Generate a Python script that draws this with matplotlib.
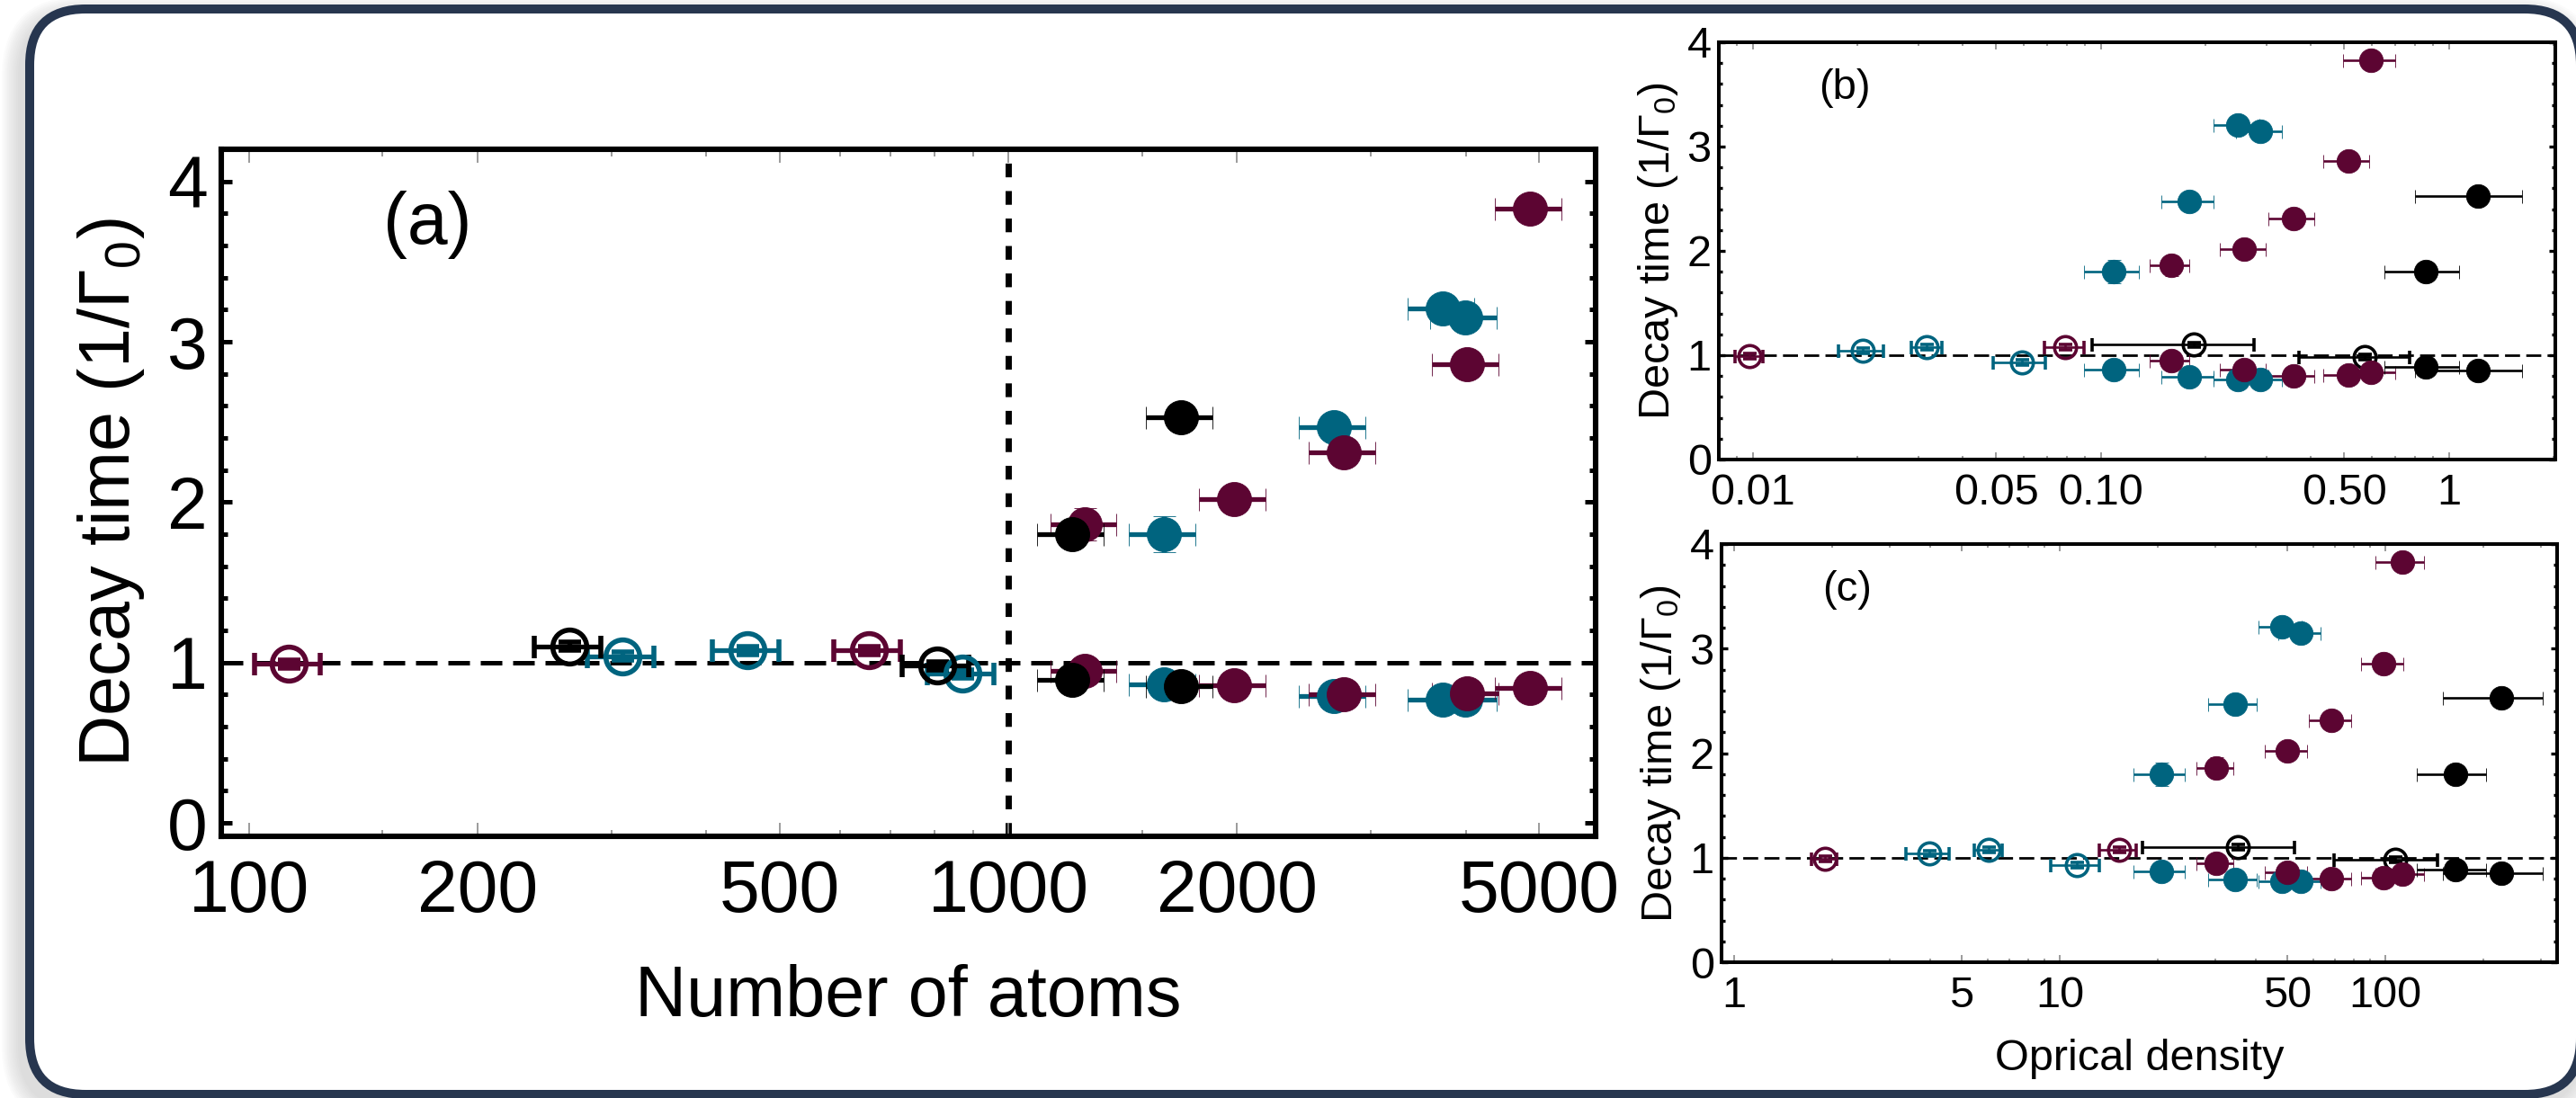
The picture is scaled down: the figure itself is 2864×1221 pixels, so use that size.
import matplotlib
matplotlib.use("Agg")
import numpy as np
import matplotlib.pyplot as plt
import matplotlib.ticker as mticker
from matplotlib.patches import FancyBboxPatch

plt.rcParams['font.family'] = ['Liberation Sans', 'DejaVu Sans']
plt.rcParams['mathtext.fontset'] = 'custom'
plt.rcParams['mathtext.rm'] = 'Liberation Sans'
plt.rcParams['mathtext.default'] = 'regular'

COLORS = {'maroon': '#5c0532', 'teal': '#00647f', 'black': '#000000'}

# open symbols: single decay time close to 1/Gamma0
open_color = ['maroon', 'black', 'teal', 'teal', 'maroon', 'black', 'teal']
open_atoms = [113, 264, 310, 453, 655, 806, 870]
open_tau = [0.99, 1.10, 1.04, 1.075, 1.075, 0.98, 0.93]
open_od_b = [0.0098, 0.185, 0.0207, 0.0317, 0.0791, 0.572, 0.0592]
open_od_c = [1.90, 35.3, 3.97, 6.06, 15.2, 107.0, 11.3]
open_od_relerr = [0.09, 0.49, 0.15, 0.10, 0.13, 0.35, 0.17]

# filled symbols: long (subradiant) and short (superradiant) decay time per sample
fill_color = ['maroon', 'black', 'teal', 'black', 'maroon', 'teal',
              'maroon', 'teal', 'teal', 'maroon', 'maroon']
fill_atoms = [1261, 1212, 1602, 1687, 1982, 2682, 2764, 3729, 3993, 4015, 4858]
fill_tau_long = [1.86, 1.80, 1.80, 2.53, 2.02, 2.47, 2.31, 3.21, 3.15, 2.86, 3.83]
fill_tau_long_err = [0.10, 0.04, 0.11, 0.04, 0.04, 0.05, 0.04, 0.07, 0.05, 0.04, 0.04]
fill_tau_short = [0.95, 0.89, 0.865, 0.855, 0.86, 0.79, 0.80, 0.77, 0.77, 0.81, 0.84]
fill_od_b = [0.159, 0.86, 0.109, 1.208, 0.258, 0.180, 0.357, 0.248, 0.288, 0.513, 0.598]
fill_od_c = [30.3, 164.0, 20.5, 227.0, 50.1, 34.5, 68.4, 48.0, 55.1, 98.9, 112.6]
fill_od_relerr = [0.13, 0.24, 0.18, 0.34, 0.15, 0.17, 0.15, 0.15, 0.15, 0.15, 0.17]

atoms_relerr = 0.10
tau_open_err = 0.025
tau_short_err = 0.025

W, H, DPI = 2864, 1221, 200
fig = plt.figure(figsize=(W / DPI, H / DPI), dpi=DPI)
fig.patch.set_facecolor('white')

# slide frame with a soft shadow
for i in range(10):
    grow = (10 - i) * 2.0 / DPI
    sh = FancyBboxPatch((28 / DPI - 6 / DPI - grow, -12 / DPI - grow),
                        2846 / DPI + 2 * grow, 1217 / DPI + 2 * grow,
                        boxstyle='round,pad=0,rounding_size=%f' % (70 / DPI + grow),
                        transform=fig.dpi_scale_trans, fc='#9a9a9a', ec='none',
                        alpha=0.035, zorder=-20)
    fig.add_artist(sh)
frame = FancyBboxPatch((33 / DPI, 4 / DPI), 2836 / DPI, 1207 / DPI,
                       boxstyle='round,pad=0,rounding_size=%f' % (62 / DPI),
                       transform=fig.dpi_scale_trans, fc='white', ec='#27364f',
                       lw=10 * 72 / DPI, zorder=-10)
fig.add_artist(frame)


def rect(l, t, r, b):
    return [l / W, (H - b) / H, (r - l) / W, (b - t) / H]


def draw_points(ax, xo, xo_err, xf, xf_err, ms_f, ms_o, mew, elw, cap):
    for c in ['teal', 'maroon', 'black']:
        col = COLORS[c]
        io = [i for i, k in enumerate(open_color) if k == c]
        if io:
            x = np.array([xo[i] for i in io])
            ax.errorbar(x, [open_tau[i] for i in io],
                        xerr=[xo_err[i] for i in io], yerr=tau_open_err,
                        fmt='o', color=col, mfc='none', mec=col, ms=ms_o, mew=mew,
                        elinewidth=elw, capsize=cap, capthick=elw, zorder=3)
        jf = [i for i, k in enumerate(fill_color) if k == c]
        x = np.array([xf[i] for i in jf])
        xe = [xf_err[i] for i in jf]
        ax.errorbar(x, [fill_tau_long[i] for i in jf], xerr=xe,
                    yerr=[fill_tau_long_err[i] for i in jf],
                    fmt='o', color=col, mec=col, ms=ms_f, mew=0.3,
                    elinewidth=elw, capsize=cap, capthick=elw, zorder=4)
        ax.errorbar(x, [fill_tau_short[i] for i in jf], xerr=xe, yerr=tau_short_err,
                    fmt='o', color=col, mec=col, ms=ms_f, mew=0.3,
                    elinewidth=elw, capsize=cap, capthick=elw, zorder=4)


def style_axes(ax, spine_w, tick_fs, ylen, ywid, xlen, ypad, xpad):
    for s in ax.spines.values():
        s.set_linewidth(spine_w)
    ax.set_facecolor('none')
    ax.yaxis.set_major_locator(mticker.FixedLocator([0, 1, 2, 3, 4]))
    ax.yaxis.set_minor_locator(mticker.MultipleLocator(0.2))
    ax.tick_params(axis='y', which='major', direction='in', left=True, right=True,
                   length=ylen, width=ywid, color='black', labelsize=tick_fs, pad=ypad)
    ax.tick_params(axis='y', which='minor', direction='in', left=True, right=True,
                   length=ylen * 0.55, width=ywid, color='black')
    ax.tick_params(axis='x', which='major', direction='in', top=True, bottom=True,
                   length=xlen, width=0.6, color='#8a8a8a', labelcolor='black',
                   labelsize=tick_fs, pad=xpad)
    ax.tick_params(axis='x', which='minor', direction='in', top=True, bottom=True,
                   length=xlen * 0.5, width=0.6, color='#8a8a8a')


ylabel = 'Decay time (1/Γ$_0$)'

# ---- panel (a)
ax = fig.add_axes(rect(246, 166, 1774, 930))
ax.set_xscale('log')
ax.set_xlim(92, 5930)
ax.set_ylim(-0.084, 4.2)
ax.axhline(1, color='black', lw=1.8, ls=(0, (4.8, 2.4)), zorder=1)
ax.axvline(1000, color='black', lw=2.5, ls=(0, (2.2, 2.2)), zorder=1)
draw_points(ax, open_atoms, [atoms_relerr * v for v in open_atoms],
            fill_atoms, [atoms_relerr * v for v in fill_atoms],
            ms_f=13.7, ms_o=13.6, mew=2.0, elw=1.9, cap=4.5)
style_axes(ax, 2.2, 29, 4.3, 1.8, 5.4, 5.5, 9.0)
ax.xaxis.set_major_locator(mticker.FixedLocator([100, 200, 500, 1000, 2000, 5000]))
ax.xaxis.set_major_formatter(mticker.FixedFormatter(['100', '200', '500', '1000', '2000', '5000']))
ax.xaxis.set_minor_locator(mticker.FixedLocator([150, 300, 400, 600, 700, 800, 900, 1500, 3000, 4000]))
ax.xaxis.set_minor_formatter(mticker.NullFormatter())
ax.set_xlabel('Number of atoms', fontsize=28.5, va='baseline')
ax.xaxis.set_label_coords(0.5, -0.262)
ax.set_ylabel(ylabel, fontsize=28.5, va='center')
ax.yaxis.set_label_coords(-0.08, 0.5)
ax.text(0.15, 0.89, '(a)', transform=ax.transAxes, fontsize=29, ha='center', va='center')

# ---- panels (b) and (c)
small = dict(ms_f=9.5, ms_o=8.8, mew=1.3, elw=0.95, cap=2.7)
for pos, xo, xf, lim, ticks, labels, tag in [
        ((1911, 47, 2841, 511), open_od_b, fill_od_b, (0.008, 2.02),
         [0.01, 0.05, 0.1, 0.5, 1], ['0.01', '0.05', '0.10', '0.50', '1'], '(b)'),
        ((1914, 605, 2843, 1070), open_od_c, fill_od_c, (0.915, 337),
         [1, 5, 10, 50, 100], ['1', '5', '10', '50', '100'], '(c)')]:
    ax = fig.add_axes(rect(*pos))
    ax.set_xscale('log')
    ax.set_xlim(*lim)
    ax.set_ylim(0, 4)
    ax.axhline(1, color='black', lw=1.0, ls=(0, (6, 2.5)), zorder=1)
    draw_points(ax, xo, [r * v for r, v in zip(open_od_relerr, xo)],
                xf, [r * v for r, v in zip(fill_od_relerr, xf)], **small)
    style_axes(ax, 1.45, 17.5, 2.5, 1.2, 2.9, 3.0, 5.5)
    ax.xaxis.set_major_locator(mticker.FixedLocator(ticks))
    ax.xaxis.set_major_formatter(mticker.FixedFormatter(labels))
    dec = np.floor(np.log10(lim[0]))
    minors = [m * 10 ** d for d in np.arange(dec, dec + 4) for m in [2, 3, 4, 6, 7, 8, 9]]
    ax.xaxis.set_minor_locator(mticker.FixedLocator([m for m in minors if lim[0] < m < lim[1]]))
    ax.xaxis.set_minor_formatter(mticker.NullFormatter())
    ax.set_ylabel(ylabel, fontsize=17.5, va='center')
    ax.yaxis.set_label_coords(-0.073, 0.5)
    ax.text(0.15, 0.89, tag, transform=ax.transAxes, fontsize=17, ha='center', va='center')
    if tag == '(c)':
        ax.set_xlabel('Oprical density', fontsize=17.5, va='baseline')
        ax.xaxis.set_label_coords(0.5, -0.258)

fig.savefig('out.png', dpi=DPI)
